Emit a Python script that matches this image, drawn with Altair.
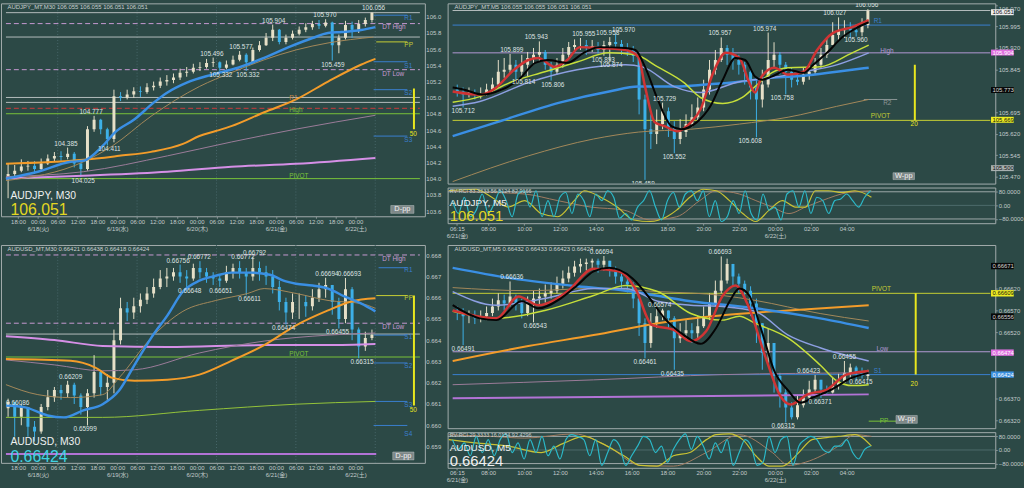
import altair as alt
import pandas as pd

FONT = "Liberation Sans, Noto Sans CJK JP, sans-serif"
BG = "#2c4946"
FRAME = "#a3adad"
AXTXT = "#c4cccc"
LBL = "#dde2e2"
BULL = "#e6e0c8"
BEAR = "#3db0e8"
BLUE_MA = "#3a8fe4"
ORANGE = "#f39c2a"
TAN = "#a4895a"
MAUVE = "#9c7c9a"
PINK = "#d58fe6"
YGREEN = "#c6df3a"
LAV = "#8d9fe2"
RED = "#cf3434"
BLACK = "#050505"
GREENMA = "#95c43a"
PURPLE = "#b273d6"
LVL_BLUE = "#3a7fcf"
LVL_PINK = "#c79ad2"
LVL_GREY = "#b4bcbc"
LVL_YEL = "#c7cf34"
LVL_GREEN = "#79c23a"
LVL_RED = "#cc3a3a"
BAR_YEL = "#e9e71e"
CYAN = "#2bb9c9"
OSC_YEL = "#c9c233"
OSC_BRN = "#a27c62"

# ================= AUDJPY M30 (top-left) =================
TL_T = list(range(-9, 102, 2))
TL_CLOSE = [104.06, 104.10, 104.15, 104.16, 104.12, 104.19, 104.25, 104.28, 104.27, 104.31,
            104.19, 104.12, 104.61, 104.73, 104.61, 104.49, 105.02, 105.00, 105.04, 105.08,
            105.07, 105.13, 105.15, 105.20, 105.22, 105.25, 105.31, 105.32, 105.37, 105.38,
            105.43, 105.44, 105.37, 105.41, 105.47, 105.53, 105.44, 105.59, 105.65, 105.74,
            105.84, 105.69, 105.74, 105.79, 105.84, 105.87, 105.91, 105.89, 105.93, 105.65,
            105.74, 105.90, 105.84, 105.91, 105.96, 106.05]
TL_HIGH = [104.19, 104.17, 104.24, 104.22, 104.22, 104.25, 104.30, 104.33, 104.34, 104.385,
           104.33, 104.20, 104.65, 104.777, 104.74, 104.63, 105.10, 105.07, 105.10, 105.13,
           105.14, 105.18, 105.20, 105.25, 105.28, 105.30, 105.36, 105.38, 105.42, 105.44,
           105.48, 105.496, 105.45, 105.46, 105.52, 105.577, 105.55, 105.62, 105.70, 105.80,
           105.904, 105.85, 105.78, 105.83, 105.88, 105.92, 105.95, 105.96, 105.970, 105.94,
           105.78, 105.95, 105.94, 105.96, 105.99, 106.056]
TL_LOW = [103.76, 104.00, 104.08, 104.10, 104.06, 104.10, 104.17, 104.22, 104.22, 104.24,
          104.14, 104.025, 104.10, 104.58, 104.55, 104.411, 104.45, 104.96, 104.98, 105.00,
          105.01, 105.05, 105.09, 105.12, 105.15, 105.18, 105.22, 105.26, 105.30, 105.33,
          105.36, 105.38, 105.332, 105.35, 105.40, 105.45, 105.332, 105.42, 105.57, 105.64,
          105.70, 105.66, 105.66, 105.72, 105.77, 105.81, 105.84, 105.85, 105.87, 105.459,
          105.55, 105.72, 105.74, 105.80, 105.88, 105.93]
TL_FIRST_OPEN = 104.00

TL_BLUE_T = [-9.65, 0, 9.94, 13.74, 19.59, 23.39, 29.24, 35.09, 39.18, 45.03, 52.63, 60.53, 68.42, 76.02, 83.04, 87.72, 91.81, 97.66, 102.05]
TL_BLUE_P = [104.002, 104.087, 104.209, 104.222, 104.405, 104.576, 104.735, 104.943, 105.066, 105.188, 105.286, 105.371, 105.494, 105.628, 105.738, 105.799, 105.812, 105.836, 105.873]
TL_TAN_T = [-9.65, 13.74, 22.51, 34.21, 48.83, 58.48, 68.42, 78.07, 87.72, 101.46]
TL_TAN_P = [103.977, 104.209, 104.405, 104.772, 105.139, 105.310, 105.469, 105.591, 105.677, 105.750]
TL_ORANGE_T = [-9.65, 13.74, 24.56, 34.21, 43.86, 48.83, 53.80, 58.48, 68.42, 78.07, 87.72, 97.66, 102.05]
TL_ORANGE_P = [104.185, 104.234, 104.283, 104.332, 104.430, 104.528, 104.589, 104.650, 104.821, 104.980, 105.200, 105.408, 105.481]
TL_MAUVE_T = [-9.65, 13.74, 39.18, 58.48, 78.07, 102.05]
TL_MAUVE_P = [104.026, 104.087, 104.283, 104.454, 104.613, 104.784]
TL_PINK_T = [-9.65, 13.74, 39.18, 58.48, 78.07, 102.05]
TL_PINK_P = [104.002, 104.038, 104.087, 104.148, 104.185, 104.258]

TL_LBL_TEXT = ["106.056", "105.970", "105.904", "105.577", "105.496", "105.332", "105.332", "105.459", "104.777", "104.385", "104.411", "104.025"]
TL_LBL_T = [101.5, 86.8, 71.3, 61.4, 52.6, 55.3, 63.5, 89.2, 16.1, 8.5, 21.6, 13.7]
TL_LBL_KIND = ["h", "h", "h", "h", "h", "l", "l", "l", "h", "h", "l", "l"]

TL_LVL_P = [106.051, 106.02, 105.916, 105.75, 105.69, 105.445, 105.347, 105.10, 105.004, 104.943, 104.870, 104.803, 104.527, 104.002]
TL_LVL_T0 = [-9.65, 101.5, -9.65, -9.65, 102.3, 101.5, -9.65, 101.5, -9.65, -9.65, -9.65, -9.65, 101.5, -9.65]
TL_LVL_T1 = [115.5, 111.7, 115.5, 115.5, 111.7, 111.7, 115.5, 111.7, 115.5, 115.5, 115.5, 115.5, 111.7, 115.5]
TL_LVL_COL = [LVL_GREY, LVL_BLUE, LVL_PINK, LVL_GREY, LVL_YEL, LVL_BLUE, LVL_PINK, LVL_BLUE, LVL_GREY, LVL_GREY, LVL_RED, LVL_GREEN, LVL_BLUE, LVL_GREEN]
TL_LVL_DASH = [0, 0, 1, 0, 0, 0, 1, 0, 0, 0, 1, 0, 0, 0]
TL_LTXT = ["R1", "DT High", "PP", "S1", "DT Low", "S2", "R1", "High", "S3", "PIVOT", "50"]
TL_LTXT_T = [110.8, 104.1, 110.8, 110.8, 104.1, 110.8, 76.0, 76.0, 110.8, 76.0, 112.4]
TL_LTXT_P = [105.983, 105.873, 105.653, 105.396, 105.298, 105.053, 104.992, 104.845, 104.479, 104.038, 104.552]
TL_LTXT_COL = [LVL_BLUE, LVL_PINK, LVL_YEL, LVL_BLUE, LVL_PINK, LVL_BLUE, "#c98a4a", LVL_GREEN, LVL_BLUE, LVL_GREEN, BAR_YEL]
TL_VBAR = [113.7, 105.115, 104.613]

# ================= AUDJPY M5 (top-right) =================
R_T = [6 + i / 3 for i in range(71)]
TR_CLOSE = [105.768, 105.757, 105.764, 105.757, 105.761, 105.775, 105.792, 105.837, 105.844, 105.861,
            105.837, 105.861, 105.885, 105.896, 105.906, 105.861, 105.837, 105.861, 105.896, 105.923,
            105.930, 105.930, 105.920, 105.927, 105.913, 105.930, 105.941, 105.934, 105.920, 105.913,
            105.892, 105.740, 105.636, 105.619, 105.654, 105.699, 105.643, 105.602, 105.626, 105.654,
            105.678, 105.712, 105.775, 105.844, 105.878, 105.920, 105.896, 105.878, 105.861, 105.837,
            105.782, 105.740, 105.792, 105.878, 105.896, 105.861, 105.837, 105.809, 105.802, 105.827,
            105.837, 105.861, 105.896, 105.930, 105.965, 105.982, 105.989, 105.982, 105.975, 106.000,
            106.051]
TR_HIGH = [105.792, 105.782, 105.782, 105.775, 105.782, 105.795, 105.816, 105.878, 105.885, 105.899,
           105.878, 105.896, 105.906, 105.920, 105.943, 105.913, 105.871, 105.885, 105.920, 105.941,
           105.950, 105.955, 105.948, 105.948, 105.941, 105.945, 105.958, 105.970, 105.948, 105.937,
           105.927, 105.896, 105.757, 105.688, 105.705, 105.729, 105.712, 105.664, 105.671, 105.688,
           105.723, 105.747, 105.809, 105.878, 105.913, 105.957, 105.930, 105.920, 105.896, 105.871,
           105.844, 105.809, 105.844, 105.974, 105.940, 105.906, 105.871, 105.851, 105.837, 105.851,
           105.861, 105.885, 105.920, 105.955, 106.010, 106.027, 106.017, 106.010, 106.003, 106.024,
           106.056]
TR_LOW = [105.750, 105.712, 105.747, 105.740, 105.743, 105.754, 105.761, 105.782, 105.816, 105.830,
          105.809, 105.814, 105.820, 105.861, 105.871, 105.844, 105.806, 105.827, 105.851, 105.885,
          105.906, 105.913, 105.896, 105.906, 105.900, 105.893, 105.874, 105.913, 105.896, 105.892,
          105.871, 105.688, 105.459, 105.567, 105.584, 105.636, 105.609, 105.552, 105.584, 105.609,
          105.643, 105.664, 105.699, 105.757, 105.827, 105.871, 105.861, 105.844, 105.827, 105.792,
          105.740, 105.608, 105.712, 105.782, 105.851, 105.827, 105.758, 105.782, 105.790, 105.792,
          105.809, 105.827, 105.851, 105.885, 105.930, 105.948, 105.955, 105.955, 105.960, 105.961,
          105.989]
TR_FIRST_OPEN = 105.775

TR_BLACK_T = [5.74, 6.34, 7.45, 8.55, 9.49, 10.43, 11.15, 12.25, 13.19, 14.08, 15.57, 16.12, 16.67, 17.39, 18.17, 18.72, 19.60, 20.38, 21.09, 21.81, 22.36, 22.92, 23.30, 23.86, 24.80, 25.68, 26.23, 27.01, 27.89, 28.66, 29.38]
TR_BLACK_P = [105.782, 105.775, 105.757, 105.775, 105.809, 105.868, 105.878, 105.868, 105.903, 105.923, 105.920, 105.913, 105.854, 105.740, 105.647, 105.636, 105.660, 105.716, 105.809, 105.885, 105.878, 105.820, 105.809, 105.820, 105.844, 105.833, 105.861, 105.903, 105.958, 105.989, 106.010]
TR_RED_T = [5.74, 7.28, 8.22, 9.10, 10.04, 10.60, 11.54, 12.25, 12.97, 14.08, 15.57, 16.29, 16.67, 17.23, 17.78, 18.50, 19.27, 19.82, 20.54, 21.26, 22.03, 22.59, 22.92, 23.30, 24.02, 24.80, 25.68, 26.45, 27.34, 28.44, 29.38]
TR_RED_P = [105.768, 105.757, 105.782, 105.837, 105.878, 105.885, 105.854, 105.878, 105.923, 105.920, 105.913, 105.889, 105.785, 105.660, 105.647, 105.629, 105.660, 105.705, 105.833, 105.903, 105.885, 105.799, 105.764, 105.820, 105.851, 105.827, 105.837, 105.913, 105.972, 105.993, 106.017]
TR_YG_T = [5.74, 7.28, 9.10, 10.98, 12.81, 14.63, 16.12, 17.39, 18.88, 19.82, 21.09, 22.20, 22.92, 23.86, 24.80, 26.62, 28.44, 29.38]
TR_YG_P = [105.730, 105.750, 105.802, 105.837, 105.871, 105.903, 105.896, 105.854, 105.799, 105.747, 105.726, 105.747, 105.785, 105.833, 105.851, 105.854, 105.903, 105.930]
TR_LAV_T = [5.74, 7.28, 10.04, 12.81, 15.57, 16.51, 18.33, 19.82, 22.03, 23.86, 25.68, 27.56, 29.38]
TR_LAV_P = [105.716, 105.733, 105.799, 105.844, 105.861, 105.854, 105.785, 105.764, 105.802, 105.816, 105.837, 105.861, 105.903]
TR_BLUE_T = [5.74, 8.22, 11.87, 14.63, 16.29, 18.33, 20.15, 22.03, 23.86, 25.68, 27.56, 29.38]
TR_BLUE_P = [105.612, 105.660, 105.730, 105.768, 105.785, 105.785, 105.792, 105.802, 105.816, 105.823, 105.837, 105.851]
TR_TAN_T = [5.74, 10.04, 13.75, 16.29, 19.27, 22.03, 24.80, 27.56, 29.38]
TR_TAN_P = [105.453, 105.543, 105.602, 105.626, 105.636, 105.654, 105.678, 105.716, 105.740]

TR_LBL_TEXT = ["105.712", "105.899", "105.943", "105.814", "105.806", "105.955", "105.958", "105.970", "105.893", "105.874",
               "105.459", "105.729", "105.552", "105.957", "105.608", "105.974", "105.758", "106.027", "105.960", "106.056"]
TR_LBL_T = [6.34, 9.10, 10.49, 9.77, 11.43, 13.19, 14.55, 15.45, 14.30, 14.74, 16.56, 17.78, 18.33, 20.93, 22.64, 23.47, 24.46, 27.45, 28.66, 29.27]
TR_LBL_KIND = ["l", "h", "h", "l", "l", "h", "h", "h", "l", "l", "l", "h", "l", "h", "l", "h", "l", "h", "l", "h"]

TR_LVL_P = [106.051, 106.000, 105.903, 105.740, 105.667]
TR_LVL_T0 = [5.735, 5.735, 5.735, 29.1, 5.735]
TR_LVL_T1 = [36.29, 36.29, 36.29, 31.0, 36.29]
TR_LVL_COL = [LVL_GREY, LVL_BLUE, "#b49ad6", "#8c9696", LVL_YEL]
TR_LTXT = ["R1", "High", "R2", "PIVOT", "20"]
TR_LTXT_T = [29.66, 30.04, 30.2, 29.5, 31.76]
TR_LTXT_P = [106.013, 105.910, 105.726, 105.681, 105.654]
TR_LTXT_COL = [LVL_BLUE, "#b49ad6", "#8c9696", LVL_YEL, BAR_YEL]
TR_VBAR = [32.0, 105.861, 105.667]
TR_TAG_P = [106.045, 105.904, 105.773, 105.669, 105.500]
TR_TAG_TXT = ["106.051", "105.904", "105.773", "105.669", "105.500"]
TR_TAG_FILL = ["#eeeeee", "#e070e0", "#080808", "#eeee22", "#a8b0b0"]
TR_TAG_INK = ["#111111", "#ffffff", "#d8d8d8", "#111111", "#111111"]

TR_CYAN = [28, -48, 48, -67, -28, 67, -48, 10, 86, 28, -67, 67, 86, -10, 86, -67, 28, -67, 48, 76,
           -48, 67, 28, -67, 67, 28, 86, 48, -76, -48, -86, -10, 28, 86, -10, -86, 28, 76, -10, 67,
           86, 28, 86, -67, 28, -95, -67, 28, -48, 86, -48, -86, 67, -28, -10, -86, 67, 86, -10, 86,
           -48, 48, 28, -48, 28, 38, 67, 28, -10, 48, 86]
TR_YEL_T = [5.8, 7.28, 8.20, 9.12, 10.04, 10.96, 11.88, 12.80, 13.36, 14.28, 15.20, 16.12, 17.04, 17.96, 18.51, 19.25, 19.99, 20.72, 21.46, 22.20, 22.93, 23.67, 24.41, 25.14, 25.70, 26.25, 26.99, 27.72, 28.46, 29.38]
TR_YEL_V = [86, 95, 48, -10, 28, -48, -67, 28, 86, 48, -10, -86, -95, -67, -28, 48, 95, 86, 28, -48, -95, -28, 28, -10, -10, 86, 86, 76, 86, 48]
TR_BRN_T = [5.8, 8.20, 10.04, 11.88, 13.73, 15.57, 17.04, 18.51, 19.80, 20.72, 22.01, 22.93, 23.85, 24.78, 25.70, 26.62, 28.09, 29.38]
TR_BRN_V = [86, 76, 67, 28, -10, -28, -86, -67, 28, 86, 67, 28, -10, -48, -10, 28, 76, 86]

# ================= AUDUSD M30 (bottom-left) =================
BL_CLOSE = [0.66109, 0.66040, 0.66086, 0.65993, 0.65970, 0.66086, 0.66132, 0.66166, 0.66150, 0.66190,
            0.66140, 0.66086, 0.66150, 0.66250, 0.66180, 0.66200, 0.66400, 0.66550, 0.66530, 0.66560,
            0.66590, 0.66620, 0.66650, 0.66690, 0.66700, 0.66720, 0.66700, 0.66690, 0.66740, 0.66720,
            0.66700, 0.66690, 0.66680, 0.66720, 0.66740, 0.66720, 0.66700, 0.66740, 0.66720, 0.66700,
            0.66650, 0.66580, 0.66530, 0.66580, 0.66580, 0.66560, 0.66600, 0.66640, 0.66660, 0.66580,
            0.66500, 0.66640, 0.66450, 0.66370, 0.66410, 0.66424]
BL_HIGH = [0.66125, 0.66086, 0.66100, 0.66086, 0.66020, 0.66100, 0.66166, 0.66180, 0.66190, 0.66209,
           0.66200, 0.66150, 0.66170, 0.66330, 0.66260, 0.66240, 0.66450, 0.66600, 0.66580, 0.66600,
           0.66620, 0.66650, 0.66690, 0.66730, 0.66740, 0.66740, 0.66756, 0.66730, 0.66760, 0.66772,
           0.66740, 0.66720, 0.66710, 0.66750, 0.66760, 0.66772, 0.66740, 0.66792, 0.66770, 0.66750,
           0.66730, 0.66680, 0.66600, 0.66620, 0.66620, 0.66610, 0.66640, 0.66670, 0.66694, 0.66660,
           0.66600, 0.66693, 0.66650, 0.66460, 0.66440, 0.66450]
BL_LOW = [0.66040, 0.65946, 0.66000, 0.65946, 0.65923, 0.65960, 0.66070, 0.66110, 0.66120, 0.66130,
          0.66100, 0.66050, 0.65999, 0.66130, 0.66140, 0.66120, 0.66150, 0.66380, 0.66490, 0.66500,
          0.66530, 0.66570, 0.66600, 0.66640, 0.66650, 0.66680, 0.66670, 0.66648, 0.66680, 0.66690,
          0.66670, 0.66660, 0.66651, 0.66670, 0.66690, 0.66690, 0.66611, 0.66680, 0.66680, 0.66660,
          0.66620, 0.66540, 0.66474, 0.66500, 0.66500, 0.66510, 0.66540, 0.66580, 0.66600, 0.66520,
          0.66455, 0.66480, 0.66400, 0.66315, 0.66350, 0.66400]
BL_FIRST_OPEN = 0.66080

BL_BLUE_T = [-9.65, -3.80, 2.92, 7.89, 13.74, 19.59, 24.56, 29.24, 34.21, 39.18, 43.86, 48.83, 53.80, 58.48, 64.33, 70.18, 74.27, 78.07, 83.04, 87.72, 92.69, 97.66, 102.05]
BL_BLUE_P = [0.66093, 0.66084, 0.66046, 0.66037, 0.66070, 0.66099, 0.66163, 0.66284, 0.66410, 0.66517, 0.66629, 0.66680, 0.66703, 0.66718, 0.66718, 0.66708, 0.66680, 0.66666, 0.66657, 0.66643, 0.66606, 0.66573, 0.66536]
BL_ORANGE_T = [-9.65, 9.94, 17.54, 22.51, 29.24, 39.18, 48.83, 58.48, 68.42, 78.07, 87.72, 94.74, 102.05]
BL_ORANGE_P = [0.66312, 0.66303, 0.66270, 0.66223, 0.66209, 0.66214, 0.66238, 0.66303, 0.66377, 0.66470, 0.66540, 0.66582, 0.66597]
BL_TAN_T = [-9.65, 0, 9.94, 19.59, 24.56, 34.21, 43.86, 53.80, 63.45, 68.42, 78.07, 87.72, 97.66, 102.05]
BL_TAN_P = [0.66191, 0.66144, 0.66130, 0.66144, 0.66223, 0.66410, 0.66536, 0.66587, 0.66620, 0.66643, 0.66620, 0.66587, 0.66573, 0.66550]
BL_MAUVE_T = [-9.65, 4.97, 19.59, 29.24, 48.83, 68.42, 87.72, 102.05]
BL_MAUVE_P = [0.66307, 0.66284, 0.66256, 0.66261, 0.66340, 0.66396, 0.66424, 0.66434]
BL_PINK_T = [-9.65, 4.97, 19.59, 39.18, 68.42, 87.72, 102.05]
BL_PINK_P = [0.66419, 0.66401, 0.66373, 0.66368, 0.66377, 0.66377, 0.66382]
BL_GREEN_T = [-9.65, 19.59, 48.83, 78.07, 102.05]
BL_GREEN_P = [0.66037, 0.66037, 0.66070, 0.66099, 0.66112]
BL_PURPLE_T = [-9.65, 102.3]
BL_PURPLE_P = [0.65865, 0.65865]

BL_LBL_TEXT = ["0.66086", "0.66209", "0.65999", "0.66756", "0.66648", "0.66772", "0.66651", "0.66772", "0.66792", "0.66611",
               "0.66474", "0.66694", "0.66455", "0.66693", "0.66315"]
BL_LBL_T = [-6.1, 9.9, 14.3, 42.4, 45.9, 48.8, 55.3, 62.0, 65.5, 64.0, 74.3, 87.4, 90.6, 94.2, 98.0]
BL_LBL_KIND = ["h", "h", "l", "h", "l", "h", "l", "h", "h", "l", "l", "h", "l", "h", "l"]

BL_LVL_P = [0.66801, 0.66741, 0.66610, 0.66480, 0.66429, 0.66424, 0.66321, 0.66293, 0.66112, 0.65999]
BL_LVL_T0 = [-9.65, 103.0, 102.3, -9.65, -9.65, 101.5, -9.65, 101.5, 101.5, 101.5]
BL_LVL_T1 = [115.5, 111.7, 111.7, 115.5, 115.5, 111.7, 115.5, 111.7, 111.7, 111.7]
BL_LVL_COL = [LVL_PINK, LVL_BLUE, LVL_YEL, LVL_PINK, LVL_GREY, LVL_BLUE, LVL_GREEN, LVL_BLUE, LVL_BLUE, LVL_BLUE]
BL_LVL_DASH = [1, 0, 0, 1, 0, 0, 0, 0, 0, 0]
BL_LTXT = ["DT High", "R1", "PP", "DT Low", "S1", "PIVOT", "S2", "S3", "S4", "50"]
BL_LTXT_T = [104.1, 110.8, 110.8, 104.1, 110.8, 76.0, 110.8, 110.8, 110.8, 112.4]
BL_LTXT_P = [0.66783, 0.66731, 0.66597, 0.66461, 0.66415, 0.66335, 0.66280, 0.66093, 0.65958, 0.66070]
BL_LTXT_COL = [LVL_PINK, LVL_BLUE, LVL_YEL, LVL_PINK, LVL_BLUE, LVL_GREEN, LVL_BLUE, LVL_BLUE, LVL_BLUE, BAR_YEL]
BL_VBAR = [113.7, 0.66610, 0.66093]

# ================= AUDUSD M5 (bottom-right) =================
BR_CLOSE = [0.66564, 0.66557, 0.66557, 0.66552, 0.66557, 0.66564, 0.66579, 0.66593, 0.66586, 0.66602,
            0.66586, 0.66564, 0.66586, 0.66597, 0.66602, 0.66609, 0.66615, 0.66631, 0.66643, 0.66656,
            0.66670, 0.66676, 0.66679, 0.66683, 0.66674, 0.66683, 0.66665, 0.66647, 0.66636, 0.66629,
            0.66597, 0.66541, 0.66496, 0.66541, 0.66557, 0.66570, 0.66552, 0.66507, 0.66518, 0.66525,
            0.66518, 0.66534, 0.66557, 0.66586, 0.66615, 0.66638, 0.66676, 0.66647, 0.66631, 0.66615,
            0.66586, 0.66541, 0.66473, 0.66496, 0.66421, 0.66383, 0.66349, 0.66327, 0.66354, 0.66372,
            0.66390, 0.66412, 0.66390, 0.66383, 0.66399, 0.66406, 0.66428, 0.66440, 0.66428, 0.66421,
            0.66424]
BR_HIGH = [0.66579, 0.66575, 0.66570, 0.66570, 0.66570, 0.66579, 0.66597, 0.66609, 0.66606, 0.66636,
           0.66606, 0.66597, 0.66602, 0.66615, 0.66620, 0.66629, 0.66634, 0.66647, 0.66661, 0.66670,
           0.66683, 0.66688, 0.66688, 0.66688, 0.66688, 0.66694, 0.66683, 0.66670, 0.66654, 0.66647,
           0.66634, 0.66602, 0.66552, 0.66564, 0.66579, 0.66574, 0.66566, 0.66557, 0.66541, 0.66548,
           0.66541, 0.66557, 0.66579, 0.66609, 0.66638, 0.66693, 0.66688, 0.66676, 0.66654, 0.66638,
           0.66625, 0.66597, 0.66541, 0.66530, 0.66496, 0.66428, 0.66394, 0.66361, 0.66376, 0.66390,
           0.66410, 0.66423, 0.66412, 0.66399, 0.66417, 0.66426, 0.66455, 0.66449, 0.66444, 0.66440,
           0.66435]
BR_LOW = [0.66548, 0.66491, 0.66541, 0.66539, 0.66543, 0.66548, 0.66557, 0.66570, 0.66570, 0.66579,
          0.66570, 0.66552, 0.66557, 0.66543, 0.66584, 0.66588, 0.66597, 0.66609, 0.66620, 0.66634,
          0.66647, 0.66656, 0.66661, 0.66665, 0.66656, 0.66661, 0.66647, 0.66631, 0.66620, 0.66611,
          0.66575, 0.66512, 0.66461, 0.66485, 0.66530, 0.66548, 0.66530, 0.66435, 0.66496, 0.66503,
          0.66496, 0.66507, 0.66530, 0.66548, 0.66579, 0.66609, 0.66631, 0.66625, 0.66609, 0.66597,
          0.66557, 0.66496, 0.66435, 0.66451, 0.66383, 0.66349, 0.66315, 0.66322, 0.66322, 0.66349,
          0.66367, 0.66383, 0.66371, 0.66381, 0.66381, 0.66390, 0.66406, 0.66417, 0.66412, 0.66415,
          0.66412]
BR_FIRST_OPEN = 0.66570

BR_BLUE_T = [5.74, 9.10, 12.81, 15.57, 19.27, 22.92, 26.62, 29.38]
BR_BLUE_P = [0.66667, 0.66643, 0.66625, 0.66615, 0.66591, 0.66575, 0.66552, 0.66530]
BR_ORANGE_T = [5.74, 10.04, 13.75, 17.39, 21.09, 24.80, 29.38]
BR_ORANGE_P = [0.66455, 0.66489, 0.66514, 0.66541, 0.66559, 0.66570, 0.66582]
BR_TAN_T = [5.74, 10.04, 13.75, 17.39, 21.09, 22.92, 26.62, 29.38]
BR_TAN_P = [0.66622, 0.66615, 0.66620, 0.66613, 0.66604, 0.66593, 0.66563, 0.66546]
BR_LAV_T = [5.74, 8.22, 10.98, 13.75, 15.57, 17.39, 19.27, 21.09, 22.92, 24.80, 26.62, 29.38]
BR_LAV_P = [0.66613, 0.66582, 0.66597, 0.66620, 0.66620, 0.66591, 0.66582, 0.66579, 0.66568, 0.66514, 0.66485, 0.66455]
BR_YG_T = [5.74, 8.22, 10.98, 13.75, 15.57, 17.39, 19.27, 21.09, 22.03, 22.92, 24.80, 26.62, 27.56, 28.44, 29.38]
BR_YG_P = [0.66568, 0.66552, 0.66570, 0.66604, 0.66627, 0.66613, 0.66563, 0.66548, 0.66557, 0.66541, 0.66507, 0.66446, 0.66410, 0.66399, 0.66401]
BR_BLACK_T = [5.74, 7.28, 8.22, 9.66, 10.60, 11.87, 12.81, 13.75, 14.63, 15.96, 17.06, 17.78, 18.88, 19.82, 20.71, 21.48, 22.03, 22.59, 23.30, 24.02, 24.80, 25.51, 26.23, 27.17, 28.44, 29.38]
BR_BLACK_P = [0.66582, 0.66552, 0.66548, 0.66591, 0.66575, 0.66597, 0.66627, 0.66659, 0.66667, 0.66643, 0.66591, 0.66552, 0.66514, 0.66494, 0.66530, 0.66591, 0.66620, 0.66604, 0.66523, 0.66432, 0.66388, 0.66360, 0.66372, 0.66388, 0.66417, 0.66428]
BR_RED_T = [5.74, 8.22, 9.49, 10.60, 12.25, 13.75, 15.18, 16.12, 17.06, 18.33, 19.27, 20.15, 21.09, 21.81, 22.59, 23.47, 24.41, 24.96, 25.90, 27.01, 28.11, 29.38]
BR_RED_P = [0.66570, 0.66552, 0.66602, 0.66582, 0.66613, 0.66665, 0.66659, 0.66620, 0.66537, 0.66525, 0.66500, 0.66523, 0.66604, 0.66627, 0.66575, 0.66469, 0.66372, 0.66356, 0.66379, 0.66390, 0.66424, 0.66432]
BR_PURPLE_T = [5.74, 17.39, 29.38]
BR_PURPLE_P = [0.66370, 0.66374, 0.66379]
BR_MAUVE_T = [5.74, 13.75, 21.09, 29.38]
BR_MAUVE_P = [0.66401, 0.66412, 0.66424, 0.66428]

BR_LBL_TEXT = ["0.66491", "0.66636", "0.66543", "0.66694", "0.66461", "0.66574", "0.66435", "0.66693", "0.66315", "0.66423", "0.66371", "0.66455", "0.66415"]
BR_LBL_T = [6.34, 9.10, 10.43, 14.19, 16.67, 17.50, 18.22, 20.93, 24.52, 25.96, 26.62, 28.0, 28.94]
BR_LBL_KIND = ["l", "h", "l", "h", "l", "h", "l", "h", "l", "h", "l", "h", "l"]

BR_LVL_P = [0.66609, 0.66476, 0.66424, 0.66318]
BR_LVL_T0 = [5.735, 5.735, 5.735, 29.38]
BR_LVL_T1 = [36.29, 36.29, 36.29, 31.0]
BR_LVL_COL = [LVL_YEL, "#b49ad6", LVL_BLUE, LVL_GREEN]
BR_LTXT = ["PIVOT", "Low", "S1", "PP", "20"]
BR_LTXT_T = [29.55, 29.82, 29.66, 30.0, 31.76]
BR_LTXT_P = [0.66618, 0.66482, 0.66432, 0.66318, 0.66403]
BR_LTXT_COL = [LVL_YEL, "#b49ad6", LVL_BLUE, LVL_GREEN, BAR_YEL]
BR_VBAR = [32.05, 0.66609, 0.66424]
BR_TAG_P = [0.66671, 0.66609, 0.66556, 0.66474, 0.66424]
BR_TAG_TXT = ["0.66671", "0.66609", "0.66556", "0.66474", "0.66424"]
BR_TAG_FILL = ["#080808", "#eeee22", "#080808", "#e070e0", "#3a90e0"]
BR_TAG_INK = ["#d8d8d8", "#111111", "#d8d8d8", "#ffffff", "#ffffff"]

BR_CYAN = [61, 4, 42, -34, 80, -15, 61, -34, 61, 95, -15, 42, -53, 61, -15, 80, -34, 23, -53, 61,
           90, 80, 61, -34, 61, -91, -15, 61, 23, -91, -34, 23, 80, 61, -15, 23, -72, 4, 61, 95,
           4, 80, 23, -53, 42, -15, 61, -91, -15, 61, 23, -91, -72, 80, -15, 61, 80, -91, 23, 61,
           80, 61, 4, -15, 23, 23, 61, -15, -53, 4, 23]
BR_YEL_T = [5.8, 7.28, 9.12, 10.96, 12.25, 13.36, 14.28, 15.57, 16.49, 17.41, 18.33, 19.25, 20.17, 20.72, 21.46, 22.20, 22.93, 23.67, 24.41, 25.33, 26.07, 26.62, 27.54, 28.46, 29.38]
BR_YEL_V = [61, 42, 23, -15, 42, 80, 42, -34, -91, -95, -34, -15, 61, 90, 95, 61, -34, -95, -95, -15, 61, 70, 80, 90, 23]
BR_BRN_T = [5.8, 8.20, 10.04, 12.80, 14.65, 16.49, 18.33, 20.17, 22.01, 23.85, 24.78, 25.70, 27.54, 28.46, 29.38]
BR_BRN_V = [90, 80, 70, 95, 23, -91, -95, -15, 90, -15, -91, -72, 23, 90, 80]

# ================= axis ticks =================
L_TICKS = [-6, 0, 6, 12, 18, 24, 30, 36, 42, 48, 54, 60, 66, 72, 78, 84, 90, 96]
L_TIMES = ["18:00", "00:00", "06:00", "12:00"] * 4 + ["18:00", "00:00"]
L_DATES = ["", "6/18(火)", "", "", "", "6/19(水)", "", "", "", "6/20(木)", "", "", "", "6/21(金)", "", "", "", "6/22(土)"]
L_GRID = [6, 30, 54, 78, 102]
R_TICKS = [6.25, 8, 10, 12, 14, 16, 18, 20, 22, 24, 26, 28]
R_TIMES = ["06:15", "08:00", "10:00", "12:00", "14:00", "16:00", "18:00", "20:00", "22:00", "00:00", "02:00", "04:00"]
R_DATES = ["6/21(金)", "", "", "", "", "", "", "", "", "6/22(土)", "", ""]

TL_YTICKS = [103.6, 103.8, 104.0, 104.2, 104.4, 104.6, 104.8, 105.0, 105.2, 105.4, 105.6, 105.8, 106.0]
BL_YTICKS = [0.659, 0.660, 0.661, 0.662, 0.663, 0.664, 0.665, 0.666, 0.667, 0.668]
TR_YTICKS = [106.070, 105.995, 105.920, 105.845, 105.695, 105.620, 105.545, 105.470]
BR_YTICKS = [0.66720, 0.66620, 0.66570, 0.66520, 0.66370, 0.66320]

L_XDOM = [-9.65, 115.5]
R_XDOM = [5.735, 36.29]
TAG_T = [36.33, 37.62]
TL_YDOM = [103.537, 106.166]
TR_YDOM = [105.446, 106.076]
BL_YDOM = [0.65823, 0.66848]
BR_YDOM = [0.66302, 0.66719]
OSC_YDOM = [-105, 105]


def tick_expr(vals, times, dates):
    v = ",".join(repr(x) for x in vals)
    tt = ",".join("'%s'" % s for s in times)
    dd = ",".join("'%s'" % s for s in dates)
    return "[[%s][indexof([%s], datum.value)], [%s][indexof([%s], datum.value)]]" % (tt, v, dd, v)


def x_axis(vals, times, dates):
    return alt.Axis(values=vals, labelExpr=tick_expr(vals, times, dates), title=None, grid=False,
                    tickSize=2, tickColor="#8a9797", labelFontSize=6, labelColor=AXTXT, labelPadding=0,
                    minExtent=17, maxExtent=17, domain=False, labelLineHeight=7, labelBaseline="top",
                    labelFlush=False, labelOverlap=False, labelFont=FONT)


def y_axis(vals, fmt, ext, size=6, expr=None, tick=2):
    kw = dict(orient="right", values=vals, title=None, grid=False, tickSize=tick, tickColor="#8a9797",
              labelFontSize=size, labelColor=AXTXT, labelPadding=1, minExtent=ext, maxExtent=ext,
              domain=False, labelOverlap=False, labelFont=FONT, labelFlush=4)
    if tick == 0:
        kw["ticks"] = False
    if expr:
        kw["labelExpr"] = expr
    else:
        kw["format"] = fmt
    return alt.Axis(**kw)


def candle_df(t, close, high, low, first_open):
    rows = []
    prev = first_open
    for ti, c, hi, lo in zip(t, close, high, low):
        o = prev
        rows.append({"t": ti, "o": o, "c": c, "hi": max(hi, o, c), "lo": min(lo, o, c),
                     "col": BULL if c >= o else BEAR})
        prev = c
    return pd.DataFrame(rows)


def text_layer(X, Y, t, p, s, size, col, clip):
    return (alt.Chart(pd.DataFrame({"t": [t], "p": [p], "text": [s]}))
            .mark_text(align="left", baseline="bottom", fontSize=size, color=col, font=FONT, clip=clip)
            .encode(x=X("t"), y=Y("p"), text="text:N"))


def build_panel(xdom, ydom, w, h, xax, yax, candles=None, bar_size=3, levels=None, vbar=None,
                mas=(), lbl=None, ltxt=None, texts=(), boxes=(), vgrid=None, tags=None, tag_h=None):
    xs = alt.Scale(domain=xdom, nice=False, zero=False)
    ys = alt.Scale(domain=ydom, nice=False, zero=False)

    def X(f):
        return alt.X(f, type="quantitative", scale=xs, axis=xax)

    def Y(f):
        return alt.Y(f, type="quantitative", scale=ys, axis=yax)

    layers = []
    if vgrid is not None:
        layers.append(alt.Chart(pd.DataFrame({"t": vgrid, "p": [ydom[0]] * len(vgrid), "p2": [ydom[1]] * len(vgrid)}))
                      .mark_rule(color="#48676a", strokeWidth=1, strokeDash=[1, 2], clip=True)
                      .encode(x=X("t"), y=Y("p"), y2="p2"))
    df = levels
    solid = df[df["dash"] == 0]
    dashed = df[df["dash"] == 1]
    layers.append(alt.Chart(solid).mark_rule(strokeWidth=1, clip=True)
                  .encode(x=X("t0"), x2="t1", y=Y("p"), color=alt.Color("col:N", scale=None)))
    if len(dashed):
        layers.append(alt.Chart(dashed).mark_rule(strokeWidth=1, strokeDash=[5, 3], clip=True)
                      .encode(x=X("t0"), x2="t1", y=Y("p"), color=alt.Color("col:N", scale=None)))
    base = alt.Chart(candles)
    layers.append(base.mark_rule(strokeWidth=1, clip=True)
                  .encode(x=X("t"), y=Y("lo"), y2="hi", color=alt.Color("col:N", scale=None)))
    layers.append(base.mark_bar(size=bar_size, clip=True)
                  .encode(x=X("t"), y=Y("o"), y2="c", color=alt.Color("col:N", scale=None)))
    for ts, ps, col, sw in mas:
        layers.append(alt.Chart(pd.DataFrame({"t": ts, "p": ps}))
                      .mark_line(color=col, strokeWidth=sw, interpolate="monotone", clip=True)
                      .encode(x=X("t"), y=Y("p")))
    layers.append(alt.Chart(pd.DataFrame({"t": [vbar[0]], "p": [vbar[1]], "p2": [vbar[2]]}))
                  .mark_rule(color=BAR_YEL, strokeWidth=2, clip=True)
                  .encode(x=X("t"), y=Y("p"), y2="p2"))
    hi = lbl[lbl["kind"] == "h"]
    lo = lbl[lbl["kind"] == "l"]
    layers.append(alt.Chart(hi).mark_text(baseline="bottom", dy=-1, fontSize=6.5, color=LBL, font=FONT, clip=True)
                  .encode(x=X("t"), y=Y("p"), text="text:N"))
    layers.append(alt.Chart(lo).mark_text(baseline="top", dy=1, fontSize=6.5, color=LBL, font=FONT, clip=True)
                  .encode(x=X("t"), y=Y("p"), text="text:N"))
    layers.append(alt.Chart(ltxt).mark_text(align="left", baseline="middle", fontSize=6.5, font=FONT, clip=True)
                  .encode(x=X("t"), y=Y("p"), text="text:N", color=alt.Color("col:N", scale=None)))
    for bx in boxes:
        t0, t1, p0, p1, label = bx
        layers.append(alt.Chart(pd.DataFrame({"t": [t0], "t2": [t1], "p": [p0], "p2": [p1]}))
                      .mark_rect(color="#7d8787", stroke="#b9c1c1", strokeWidth=0.5, clip=True)
                      .encode(x=X("t"), x2="t2", y=Y("p"), y2="p2"))
        layers.append(alt.Chart(pd.DataFrame({"t": [(t0 + t1) / 2], "p": [(p0 + p1) / 2], "text": [label]}))
                      .mark_text(fontSize=7.5, color="#f2f2f2", baseline="middle", font=FONT, clip=True)
                      .encode(x=X("t"), y=Y("p"), text="text:N"))
    if tags is not None:
        tdf = tags.copy()
        tdf["t0"] = TAG_T[0]
        tdf["t1"] = TAG_T[1]
        tdf["tm"] = TAG_T[0] + 0.08
        tdf["pa"] = tdf["p"] - tag_h / 2
        tdf["pb"] = tdf["p"] + tag_h / 2
        layers.append(alt.Chart(tdf).mark_rect()
                      .encode(x=X("t0"), x2="t1", y=Y("pa"), y2="pb", color=alt.Color("fill:N", scale=None)))
        layers.append(alt.Chart(tdf).mark_text(align="left", baseline="middle", fontSize=6, font=FONT)
                      .encode(x=X("tm"), y=Y("p"), text="text:N", color=alt.Color("ink:N", scale=None)))
    for tx in texts:
        t, p, s, size, col, clip = tx
        layers.append(text_layer(X, Y, t, p, s, size, col, clip))
    return alt.layer(*layers).properties(width=w, height=h)


def levels_df(p, t0, t1, col, dash=None):
    if dash is None:
        dash = [0] * len(p)
    return pd.DataFrame({"p": p, "t0": t0, "t1": t1, "col": col, "dash": dash})


def lbl_df(texts, ts, kinds):
    return pd.DataFrame({"text": texts, "t": ts, "p": [float(s) for s in texts], "kind": kinds})


def ltxt_df(texts, ts, ps, cols):
    return pd.DataFrame({"text": texts, "t": ts, "p": ps, "col": cols})


def tags_df(ps, texts, fills, inks):
    return pd.DataFrame({"p": ps, "text": texts, "fill": fills, "ink": inks})


def osc_panel(ydom, cyan, yel_t, yel_v, brn_t, brn_v, texts):
    xs = alt.Scale(domain=R_XDOM, nice=False, zero=False)
    ys = alt.Scale(domain=ydom, nice=False, zero=False)
    xax = x_axis(R_TICKS, R_TIMES, R_DATES)
    yax = y_axis([80, 0, -80], None, 24, size=6,
                 expr="datum.value == 0 ? '0.00' : format(datum.value, '.4f')")

    def X(f):
        return alt.X(f, type="quantitative", scale=xs, axis=xax)

    def Y(f):
        return alt.Y(f, type="quantitative", scale=ys, axis=yax)

    layers = []
    rl = pd.DataFrame({"t0": [R_XDOM[0]] * 3, "t1": [R_XDOM[1]] * 3, "p": [80, 0, -80],
                       "col": ["#9fa9a9", "#4d6b6b", "#9fa9a9"]})
    layers.append(alt.Chart(rl).mark_rule(strokeWidth=1, clip=True)
                  .encode(x=X("t0"), x2="t1", y=Y("p"), color=alt.Color("col:N", scale=None)))
    layers.append(alt.Chart(pd.DataFrame({"t": brn_t, "v": brn_v}))
                  .mark_line(color=OSC_BRN, strokeWidth=1, interpolate="monotone", clip=True)
                  .encode(x=X("t"), y=Y("v")))
    layers.append(alt.Chart(pd.DataFrame({"t": yel_t, "v": yel_v}))
                  .mark_line(color=OSC_YEL, strokeWidth=1.2, interpolate="monotone", clip=True)
                  .encode(x=X("t"), y=Y("v")))
    layers.append(alt.Chart(pd.DataFrame({"t": R_T, "v": cyan}))
                  .mark_line(color=CYAN, strokeWidth=1.2, interpolate="monotone", clip=True)
                  .encode(x=X("t"), y=Y("v")))
    for t, p, s, size, col, clip in texts:
        layers.append(text_layer(X, Y, t, p, s, size, col, clip))
    return alt.layer(*layers).properties(width=553, height=36)


# ---------- build panels ----------
TL = build_panel(
    L_XDOM, TL_YDOM, 428, 215, x_axis(L_TICKS, L_TIMES, L_DATES), y_axis(TL_YTICKS, ".1f", 17, tick=0),
    candles=candle_df(TL_T, TL_CLOSE, TL_HIGH, TL_LOW, TL_FIRST_OPEN), bar_size=3,
    levels=levels_df(TL_LVL_P, TL_LVL_T0, TL_LVL_T1, TL_LVL_COL, TL_LVL_DASH), vbar=TL_VBAR,
    mas=[(TL_PINK_T, TL_PINK_P, PINK, 2), (TL_MAUVE_T, TL_MAUVE_P, MAUVE, 1), (TL_TAN_T, TL_TAN_P, TAN, 1),
         (TL_ORANGE_T, TL_ORANGE_P, ORANGE, 2), (TL_BLUE_T, TL_BLUE_P, BLUE_MA, 2.5)],
    lbl=lbl_df(TL_LBL_TEXT, TL_LBL_T, TL_LBL_KIND),
    ltxt=ltxt_df(TL_LTXT, TL_LTXT_T, TL_LTXT_P, TL_LTXT_COL),
    texts=[(-9.2, 106.09, "AUDJPY_MT,M30  106.055 106.055 106.051 106.051", 6, "#c9d0d0", True),
           (-8.3, 103.72, "AUDJPY, M30", 10.5, "#eef0f0", True),
           (-8.3, 103.518, "106.051", 16, "#e3d722", False)],
    boxes=[(106.7, 113.7, 103.573, 103.67, "D-pp")],
    vgrid=L_GRID)

TR_MAIN = build_panel(
    R_XDOM, TR_YDOM, 553, 182, None, y_axis(TR_YTICKS, ".3f", 24),
    candles=candle_df(R_T, TR_CLOSE, TR_HIGH, TR_LOW, TR_FIRST_OPEN), bar_size=3,
    levels=levels_df(TR_LVL_P, TR_LVL_T0, TR_LVL_T1, TR_LVL_COL), vbar=TR_VBAR,
    mas=[(TR_TAN_T, TR_TAN_P, TAN, 1), (TR_BLUE_T, TR_BLUE_P, BLUE_MA, 2.5), (TR_LAV_T, TR_LAV_P, LAV, 1.5),
         (TR_YG_T, TR_YG_P, YGREEN, 1.5), (TR_RED_T, TR_RED_P, RED, 2.5), (TR_BLACK_T, TR_BLACK_P, BLACK, 2)],
    lbl=lbl_df(TR_LBL_TEXT, TR_LBL_T, TR_LBL_KIND),
    ltxt=ltxt_df(TR_LTXT, TR_LTXT_T, TR_LTXT_P, TR_LTXT_COL),
    texts=[(5.85, 106.053, "AUDJPY_MT,M5  106.055 106.055 106.051 106.051", 6, "#c9d0d0", True)],
    boxes=[(30.76, 31.98, 105.460, 105.484, "W-pp")],
    tags=tags_df(TR_TAG_P, TR_TAG_TXT, TR_TAG_FILL, TR_TAG_INK), tag_h=0.0208)

TR_OSC = osc_panel(OSC_YDOM, TR_CYAN, TR_YEL_T, TR_YEL_V, TR_BRN_T, TR_BRN_V,
                   texts=[(5.85, 68, "RV-RCI 83.3333 56.5124 82.9166", 5.5, "#c9d0d0", True),
                          (5.85, -16, "AUDJPY, M5", 10, "#eef0f0", True),
                          (5.85, -110, "106.051", 15, "#e3d722", False)])

BL = build_panel(
    L_XDOM, BL_YDOM, 428, 220, x_axis(L_TICKS, L_TIMES, L_DATES), y_axis(BL_YTICKS, ".3f", 17, tick=0),
    candles=candle_df(TL_T, BL_CLOSE, BL_HIGH, BL_LOW, BL_FIRST_OPEN), bar_size=3,
    levels=levels_df(BL_LVL_P, BL_LVL_T0, BL_LVL_T1, BL_LVL_COL, BL_LVL_DASH), vbar=BL_VBAR,
    mas=[(BL_GREEN_T, BL_GREEN_P, GREENMA, 1), (BL_PURPLE_T, BL_PURPLE_P, PURPLE, 2),
         (BL_PINK_T, BL_PINK_P, PINK, 2), (BL_MAUVE_T, BL_MAUVE_P, MAUVE, 1), (BL_TAN_T, BL_TAN_P, TAN, 1),
         (BL_ORANGE_T, BL_ORANGE_P, ORANGE, 2), (BL_BLUE_T, BL_BLUE_P, BLUE_MA, 2.5)],
    lbl=lbl_df(BL_LBL_TEXT, BL_LBL_T, BL_LBL_KIND),
    ltxt=ltxt_df(BL_LTXT, BL_LTXT_T, BL_LTXT_P, BL_LTXT_COL),
    texts=[(-9.2, 0.66814, "AUDUSD_MT,M30  0.66421 0.66438 0.66418 0.66424", 6, "#c9d0d0", True),
           (-8.3, 0.65896, "AUDUSD, M30", 10.5, "#eef0f0", True),
           (-8.3, 0.65813, "0.66424", 16, "#3fd3e3", False)],
    boxes=[(107.3, 113.7, 0.65837, 0.65874, "D-pp")],
    vgrid=L_GRID)

BR_MAIN = build_panel(
    R_XDOM, BR_YDOM, 553, 185, None, y_axis(BR_YTICKS, ".5f", 24),
    candles=candle_df(R_T, BR_CLOSE, BR_HIGH, BR_LOW, BR_FIRST_OPEN), bar_size=3,
    levels=levels_df(BR_LVL_P, BR_LVL_T0, BR_LVL_T1, BR_LVL_COL), vbar=BR_VBAR,
    mas=[(BR_MAUVE_T, BR_MAUVE_P, MAUVE, 1), (BR_PURPLE_T, BR_PURPLE_P, PURPLE, 2),
         (BR_TAN_T, BR_TAN_P, TAN, 1), (BR_ORANGE_T, BR_ORANGE_P, ORANGE, 2),
         (BR_BLUE_T, BR_BLUE_P, BLUE_MA, 2.5), (BR_LAV_T, BR_LAV_P, LAV, 1.5),
         (BR_YG_T, BR_YG_P, YGREEN, 1.5), (BR_RED_T, BR_RED_P, RED, 2.5), (BR_BLACK_T, BR_BLACK_P, BLACK, 2)],
    lbl=lbl_df(BR_LBL_TEXT, BR_LBL_T, BR_LBL_KIND),
    ltxt=ltxt_df(BR_LTXT, BR_LTXT_T, BR_LTXT_P, BR_LTXT_COL),
    texts=[(5.85, 0.66703, "AUDUSD_MT,M5  0.66432 0.66433 0.66423 0.66424", 6, "#c9d0d0", True)],
    boxes=[(30.93, 32.14, 0.66313, 0.66331, "W-pp")],
    tags=tags_df(BR_TAG_P, BR_TAG_TXT, BR_TAG_FILL, BR_TAG_INK), tag_h=0.000145)

BR_OSC = osc_panel(OSC_YDOM, BR_CYAN, BR_YEL_T, BR_YEL_V, BR_BRN_T, BR_BRN_V,
                   texts=[(5.85, 68, "RV-RCI 29.3333 16.0154 92.4296", 5.5, "#c9d0d0", True),
                          (5.85, -20, "AUDUSD, M5", 10, "#eef0f0", True),
                          (5.85, -114, "0.66424", 15, "#f0f0f0", False)])

row1 = alt.hconcat(TL, alt.vconcat(TR_MAIN, TR_OSC, spacing=2), spacing=2)
row2 = alt.hconcat(BL, alt.vconcat(BR_MAIN, BR_OSC, spacing=2), spacing=2)

chart = (alt.vconcat(row1, row2, spacing=3)
         .configure(background=BG, padding={"left": 0, "right": 0, "top": 0, "bottom": 0}, font=FONT)
         .configure_view(stroke=FRAME, strokeWidth=1, fill=BG))

chart.save("out.html", embed_options={"renderer": "svg", "actions": False})
